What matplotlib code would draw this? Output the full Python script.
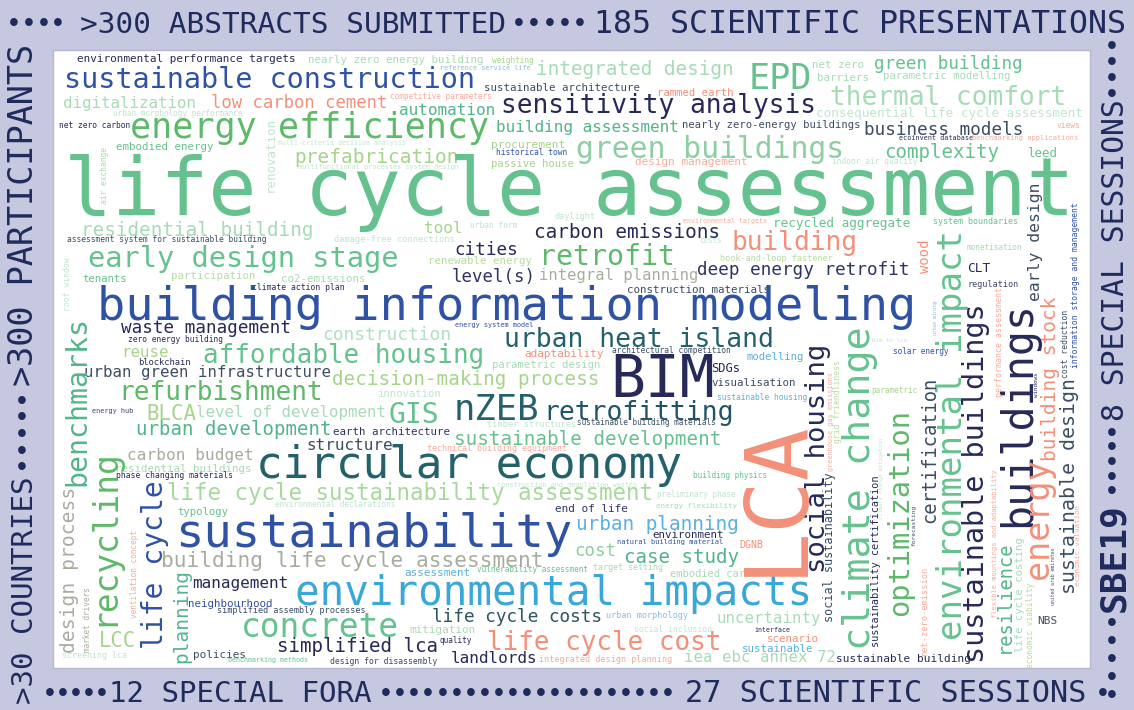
import matplotlib
matplotlib.use("Agg")
import matplotlib.pyplot as plt
from matplotlib.patches import Rectangle

FONT = "DejaVu Sans Mono"
W, H = 1134, 710

# colour keys used by the word cloud
palette = {
    "G": "#65c28e", "GM": "#5fb96a", "GL": "#a6dbb5", "GL2": "#8dcfa2",
    "GP": "#c0e5cd", "GP2": "#b2e0c4", "YG": "#a6d48b", "YGP": "#b6dca0",
    "YGL": "#a8d99c", "TG": "#52b58a", "N": "#3052a5", "D": "#272a58",
    "D2": "#2f3562", "DS": "#3b4d63", "T": "#24616b", "T2": "#225468",
    "T3": "#2c5560", "S": "#f3907a", "SL": "#f5ab9a", "B": "#3aa7d9",
    "BL": "#5ab0df", "BLP": "#8bbde0", "GR": "#a7ad9c",
}

# frame labels: text, start, end, baseline, rotation, weight
frame_labels = [
    (">300 ABSTRACTS SUBMITTED", 82, 505, 33, 0, "normal"),
    ("185 SCIENTIFIC PRESENTATIONS", 595, 1125, 33, 0, "normal"),
    ("12 SPECIAL FORA", 110, 370, 702, 0, "normal"),
    ("27 SCIENTIFIC SESSIONS", 687, 1085, 702, 0, "normal"),
    (">30 COUNTRIES", 703, 478, 33, 90, "normal"),
    (">300 PARTICIPANTS", 385, 45, 33, 90, "normal"),
    ("SBE19", 610, 505, 1124, 90, "bold"),
    ("8 SPECIAL SESSIONS", 420, 100, 1124, 90, "normal"),
]

# dotted separators on the frame: count, start, end, centre line, rotation
frame_dots = [
    (4, 14, 58, 22, 0),
    (5, 519, 580, 22, 0),
    (5, 50, 102, 692, 0),
    (21, 386, 668, 692, 0),
    (1, 1103, 1103, 692, 0),
    (5, 466, 400, 22, 90),
    (5, 694, 622, 1112, 90),
    (5, 490, 432, 1112, 90),
    (4, 93, 45, 1112, 90),
]

# horizontal terms: text, left, right, baseline, colour key
terms_h = [
    ("environmental performance targets", 78, 295, 62, "D"),
    ("nearly zero energy building", 308, 483, 63, "GL"),
    ("weighting", 492, 533, 63, "YG"),
    ("reference service life", 440, 530, 70, "BLP"),
    ("integrated design", 537, 733, 75, "GL"),
    ("EPD", 750, 810, 89, "G"),
    ("net zero", 812, 863, 68, "GL"),
    ("barriers", 817, 868, 81, "GL"),
    ("green building", 875, 1022, 69, "G"),
    ("parametric modelling", 883, 1010, 79, "GL"),
    ("sustainable construction", 65, 475, 88, "N"),
    ("sustainable architecture", 485, 640, 91, "DS"),
    ("rammed earth", 657, 733, 96, "S"),
    ("competitive parameters", 390, 492, 99, "SL"),
    ("digitalization", 63, 195, 108, "GL"),
    ("low carbon cement", 212, 387, 108, "S"),
    ("urban morphology performance", 113, 243, 116, "GP"),
    ("automation", 400, 495, 115, "TG"),
    ("sensitivity analysis", 502, 815, 113, "D"),
    ("thermal comfort", 832, 1065, 105, "GL"),
    ("consequential life cycle assessment", 817, 1082, 117, "GP"),
    ("net zero carbon", 60, 130, 128, "D"),
    ("energy efficiency", 132, 488, 138, "GM"),
    ("building assessment", 497, 678, 132, "TG"),
    ("nearly zero-energy buildings", 683, 860, 128, "DS"),
    ("business models", 865, 1022, 135, "DS"),
    ("views", 1057, 1080, 128, "SL"),
    ("ecoinvent database", 900, 973, 140, "D"),
    ("benchmarking applications", 973, 1077, 140, "SL"),
    ("embodied energy", 117, 213, 150, "G"),
    ("multi-criteria decision analysis", 278, 405, 145, "GP"),
    ("procurement", 492, 565, 148, "YG"),
    ("green buildings", 577, 843, 158, "GL2"),
    ("complexity", 885, 998, 158, "G"),
    ("leed", 1028, 1057, 157, "G"),
    ("historical town", 497, 567, 155, "N"),
    ("prefabrication", 295, 458, 163, "YG"),
    ("multifunctional processes system design", 298, 458, 169, "GP"),
    ("passive house", 492, 573, 167, "YG"),
    ("design management", 635, 747, 165, "SL"),
    ("indoor air quality", 832, 917, 164, "GP"),
    ("life cycle assessment", 68, 1070, 215, "G"),
    ("residential building", 82, 312, 236, "GL"),
    ("assessment system for sustainable building", 68, 265, 242, "DS"),
    ("damage-free connections", 335, 453, 242, "GP"),
    ("daylight", 555, 595, 219, "GP"),
    ("urban form", 470, 517, 228, "GP"),
    ("tool", 425, 462, 233, "YG"),
    ("environmental targets", 683, 767, 223, "SL"),
    ("costs", 700, 722, 243, "GP"),
    ("recycled aggregate", 773, 910, 227, "G"),
    ("system boundaries", 933, 1018, 224, "G"),
    ("early design stage", 90, 397, 267, "G"),
    ("carbon emissions", 535, 720, 238, "D"),
    ("building", 733, 857, 250, "S"),
    ("hook-and-loop fastener", 720, 832, 261, "YGP"),
    ("cities", 455, 517, 255, "D"),
    ("retrofit", 540, 673, 265, "GM"),
    ("renewable energy", 428, 532, 264, "YGP"),
    ("tenants", 83, 127, 282, "G"),
    ("participation", 172, 255, 279, "YGP"),
    ("co2-emissions", 282, 365, 282, "GL"),
    ("level(s)", 453, 535, 282, "D2"),
    ("integral planning", 540, 697, 280, "GR"),
    ("deep energy retrofit", 698, 908, 275, "D2"),
    ("CLT", 968, 990, 272, "D"),
    ("regulation", 968, 1018, 287, "DS"),
    ("monetisation", 967, 1022, 250, "GL"),
    ("climate action plan", 252, 345, 290, "D"),
    ("construction materials", 627, 770, 293, "DS"),
    ("building information modeling", 100, 913, 320, "N"),
    ("waste management", 122, 290, 333, "D"),
    ("zero energy building", 128, 222, 342, "D"),
    ("construction", 323, 450, 340, "GP2"),
    ("reuse", 122, 168, 357, "YG"),
    ("affordable housing", 205, 483, 363, "G"),
    ("blockchain", 138, 190, 365, "D"),
    ("urban heat island", 505, 772, 347, "T"),
    ("energy system model", 455, 533, 327, "N"),
    ("adaptability", 525, 603, 357, "S"),
    ("architectural competition", 612, 730, 353, "DS"),
    ("modelling", 747, 803, 360, "BL"),
    ("SDGs", 712, 740, 372, "D"),
    ("solar energy", 893, 948, 354, "N"),
    ("bim to lca", 872, 907, 342, "GP"),
    ("BIM", 613, 712, 397, "D"),
    ("visualisation", 712, 795, 386, "DS"),
    ("sustainable housing", 717, 807, 400, "BL"),
    ("parametric", 872, 917, 393, "YG"),
    ("urban green infrastructure", 85, 330, 377, "DS"),
    ("parametric design", 493, 600, 368, "GL"),
    ("decision-making process", 333, 598, 385, "YG"),
    ("refurbishment", 120, 322, 400, "GM"),
    ("innovation", 377, 440, 397, "GP"),
    ("energy hub", 92, 133, 413, "DS"),
    ("BLCA", 147, 195, 420, "YG"),
    ("level of development", 197, 385, 417, "GL"),
    ("GIS", 390, 438, 423, "G"),
    ("nZEB", 455, 537, 420, "T"),
    ("retrofitting", 545, 733, 420, "T2"),
    ("timber structures", 488, 575, 427, "GP"),
    ("sustainable building materials", 577, 715, 425, "DS"),
    ("urban development", 137, 330, 435, "TG"),
    ("earth architecture", 333, 450, 435, "D2"),
    ("structure", 307, 392, 450, "DS"),
    ("sustainable development", 455, 720, 445, "G"),
    ("technical building equipment", 427, 567, 451, "SL"),
    ("carbon budget", 128, 253, 460, "GR"),
    ("residential buildings", 115, 252, 472, "GL"),
    ("phase changing materials", 118, 232, 478, "D"),
    ("circular economy", 258, 680, 478, "T"),
    ("building physics", 693, 767, 478, "G"),
    ("construction and demolition wastes", 498, 637, 487, "GP"),
    ("preliminary phase", 657, 735, 497, "GP"),
    ("life cycle sustainability assessment", 167, 653, 500, "YGL"),
    ("environmental declarations", 275, 395, 507, "GP"),
    ("energy flexibility", 657, 737, 508, "GL"),
    ("end of life", 555, 627, 512, "D2"),
    ("typology", 178, 228, 515, "G"),
    ("urban planning", 577, 738, 530, "BL"),
    ("environment", 653, 723, 538, "D"),
    ("natural building material", 618, 722, 544, "N"),
    ("sustainability", 177, 570, 547, "N"),
    ("DGNB", 740, 763, 548, "S"),
    ("cost", 575, 615, 556, "GL2"),
    ("case study", 625, 738, 563, "TG"),
    ("building life cycle assessment", 163, 542, 567, "GR"),
    ("target setting", 593, 663, 570, "GL"),
    ("vulnerability assessment", 478, 587, 572, "G"),
    ("assessment", 405, 470, 576, "BL"),
    ("embodied carbon", 670, 763, 577, "GL"),
    ("management", 193, 288, 588, "D"),
    ("environmental impacts", 297, 810, 605, "B"),
    ("neighbourhood", 188, 272, 607, "N"),
    ("simplified assembly processes", 218, 365, 613, "DS"),
    ("urban morphology", 607, 688, 618, "BLP"),
    ("life cycle costs", 433, 602, 622, "T3"),
    ("uncertainty", 717, 820, 623, "GL"),
    ("NBS", 1038, 1057, 624, "DS"),
    ("interface", 755, 790, 632, "D"),
    ("social inclusion", 635, 712, 632, "GP"),
    ("mitigation", 410, 475, 633, "GL"),
    ("concrete", 242, 397, 637, "G"),
    ("scenario", 767, 818, 642, "S"),
    ("quality", 440, 472, 643, "D"),
    ("LCC", 100, 135, 647, "YG"),
    ("life cycle cost", 488, 720, 650, "S"),
    ("sustainable", 743, 813, 652, "BL"),
    ("simplified lca", 278, 437, 652, "D"),
    ("policies", 193, 245, 658, "DS"),
    ("screening lca", 62, 127, 658, "GP"),
    ("benchmarking methods", 228, 308, 662, "G"),
    ("integrated design planning", 540, 672, 662, "SL"),
    ("iea ebc annex 72", 685, 835, 662, "GL"),
    ("sustainable building", 837, 970, 662, "D"),
    ("design for disassembly", 330, 437, 664, "DS"),
    ("landlords", 452, 537, 663, "D"),
]

# vertical terms (read bottom to top): text, bottom, top, baseline x, colour key
terms_v = [
    ("renovation", 192, 118, 274, "GP"),
    ("air exchange", 203, 147, 107, "GL"),
    ("roof window", 310, 258, 70, "GP"),
    ("wood", 272, 240, 929, "S"),
    ("urban mining", 335, 300, 937, "BLP"),
    ("environmental impact", 638, 232, 962, "G"),
    ("sustainable buildings", 662, 305, 984, "D"),
    ("buildings", 525, 303, 1030, "D"),
    ("early design", 300, 183, 1040, "DS"),
    ("building stock", 460, 297, 1056, "S"),
    ("energy", 577, 460, 1048, "S"),
    ("sustainable design", 593, 380, 1075, "DS"),
    ("information storage and management", 367, 203, 1078, "N"),
    ("cost reduction", 377, 310, 1068, "DS"),
    ("performance assessment", 397, 287, 1002, "SL"),
    ("windows", 397, 373, 1038, "D"),
    ("optimization", 615, 410, 908, "GM"),
    ("climate change", 648, 328, 870, "G"),
    ("certification", 522, 377, 935, "DS"),
    ("social housing", 572, 345, 825, "D"),
    ("social sustainability", 622, 473, 833, "DS"),
    ("sustainability certification", 648, 475, 879, "D"),
    ("forecasting", 545, 505, 915, "DS"),
    ("net-zero-emission", 655, 568, 927, "SL"),
    ("resilience", 652, 542, 1010, "TG"),
    ("life cycle costing", 652, 538, 1023, "GL"),
    ("flexible mountings and adaptability", 618, 470, 997, "SL"),
    ("economic viability", 668, 583, 1033, "YGP"),
    ("united arab emirates", 605, 548, 1055, "DS"),
    ("economic valuation", 585, 505, 1080, "SL"),
    ("LCA", 572, 422, 800, "S"),
    ("greenhouse gas emissions", 470, 373, 833, "SL"),
    ("grid friendliness", 443, 360, 840, "YGP"),
    ("climate change mitigation", 520, 437, 883, "GP"),
    ("benchmarks", 485, 318, 85, "TG"),
    ("recycling", 625, 450, 113, "GM"),
    ("life cycle", 648, 482, 163, "N"),
    ("design process", 652, 488, 75, "GR"),
    ("market drivers", 652, 587, 90, "GR"),
    ("ventilation concept", 618, 530, 137, "SL"),
    ("planning", 662, 570, 187, "TG"),
]

FRAME_COLOR = "#1f2b5c"
DOT_SIZE = 19


def fit_size(text, span):
    # monospace advance is 0.602 em; convert px to points at 100 dpi
    em = abs(span) / (len(text) * 0.602 - 0.1)
    return em * 0.72


def put(ax, text, a0, a1, b, rot, color, weight="normal"):
    fs = fit_size(text, a1 - a0)
    if rot == 0:
        ax.text((a0 + a1) / 2, b, text, fontsize=fs, color=color,
                family=FONT, weight=weight, ha="center", va="baseline")
    else:
        ax.text(b, (a0 + a1) / 2, text, fontsize=fs, color=color,
                family=FONT, weight=weight, rotation=90,
                rotation_mode="anchor", ha="center", va="baseline")


fig = plt.figure(figsize=(W / 100, H / 100), dpi=100)
fig.patch.set_facecolor("#c5c8de")
ax = fig.add_axes([0, 0, 1, 1])
ax.set_xlim(0, W)
ax.set_ylim(H, 0)
ax.axis("off")

ax.add_patch(Rectangle((53, 50), 1037, 618, facecolor="white",
                       edgecolor="#b3b7cf", linewidth=1.0))

for text, a0, a1, b, rot, weight in frame_labels:
    put(ax, text, a0, a1, b, rot, FRAME_COLOR, weight)

for count, a0, a1, c, rot in frame_dots:
    step = (a1 - a0) / (count - 1) if count > 1 else 0
    for i in range(count):
        p = a0 + i * step
        xy = (p, c) if rot == 0 else (c, p)
        ax.text(xy[0], xy[1], "•", fontsize=DOT_SIZE, color=FRAME_COLOR,
                family=FONT, ha="center", va="center_baseline")

for text, x0, x1, y, key in terms_h:
    put(ax, text, x0, x1, y, 0, palette[key])

for text, y0, y1, x, key in terms_v:
    put(ax, text, y0, y1, x, 90, palette[key])

fig.savefig("out.png", dpi=100, facecolor=fig.get_facecolor())
